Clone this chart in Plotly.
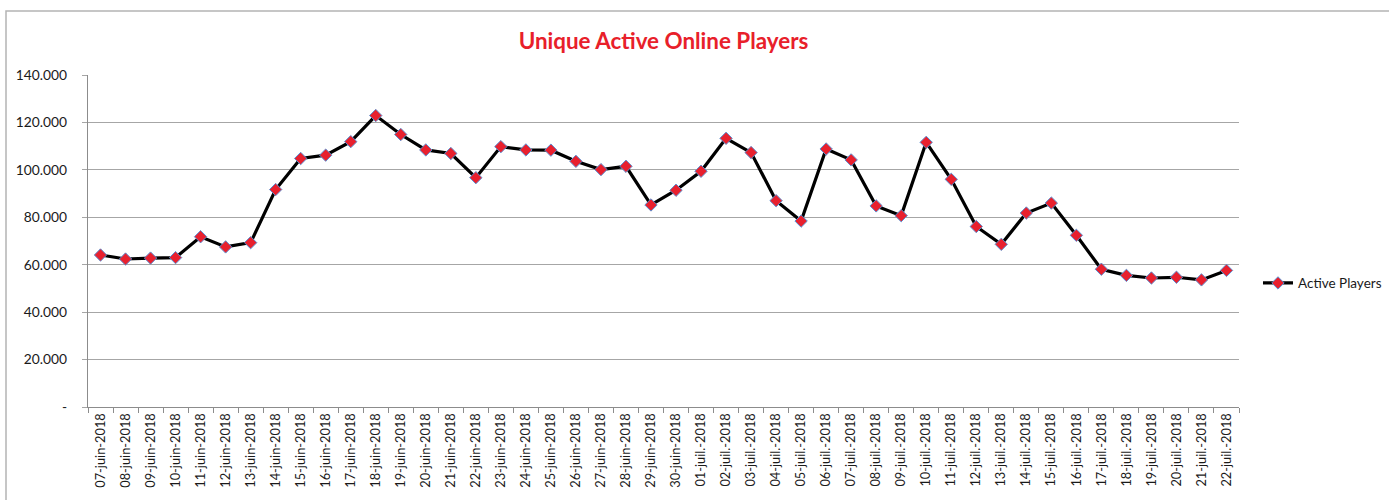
import plotly.graph_objects as go

dates = [
    "07-juin-2018", "08-juin-2018", "09-juin-2018", "10-juin-2018", "11-juin-2018",
    "12-juin-2018", "13-juin-2018", "14-juin-2018", "15-juin-2018", "16-juin-2018",
    "17-juin-2018", "18-juin-2018", "19-juin-2018", "20-juin-2018", "21-juin-2018",
    "22-juin-2018", "23-juin-2018", "24-juin-2018", "25-juin-2018", "26-juin-2018",
    "27-juin-2018", "28-juin-2018", "29-juin-2018", "30-juin-2018",
    "01-juil.-2018", "02-juil.-2018", "03-juil.-2018", "04-juil.-2018", "05-juil.-2018",
    "06-juil.-2018", "07-juil.-2018", "08-juil.-2018", "09-juil.-2018", "10-juil.-2018",
    "11-juil.-2018", "12-juil.-2018", "13-juil.-2018", "14-juil.-2018", "15-juil.-2018",
    "16-juil.-2018", "17-juil.-2018", "18-juil.-2018", "19-juil.-2018", "20-juil.-2018",
    "21-juil.-2018", "22-juil.-2018",
]

active_players = [
    64100, 62400, 62800, 63000, 71800, 67500, 69300, 91700, 104800, 106200,
    111900, 122900, 114900, 108400, 106900, 96700, 109800, 108400, 108300, 103600,
    100100, 101500, 85200, 91400, 99400, 113300, 107300, 87000, 78400, 108800,
    104200, 84800, 80700, 111600, 96000, 76100, 68600, 81800, 86000, 72400,
    58100, 55500, 54400, 54700, 53600, 57600,
]

y_tick_values = [0, 20000, 40000, 60000, 80000, 100000, 120000, 140000]
y_tick_labels = ["-", "20.000", "40.000", "60.000", "80.000", "100.000", "120.000", "140.000"]

FONT = "Lato, 'Open Sans', sans-serif"

fig = go.Figure()
fig.add_trace(go.Scatter(
    x=dates,
    y=active_players,
    mode="lines+markers",
    name="Active Players",
    line=dict(color="#000000", width=3.2),
    marker=dict(symbol="diamond", size=9.5, color="#E8202E",
                line=dict(color="#5B8ED0", width=1)),
))

fig.update_layout(
    width=1389,
    height=500,
    paper_bgcolor="white",
    plot_bgcolor="white",
    margin=dict(l=88, r=150, t=75, b=93, autoexpand=False),
    font=dict(family=FONT, size=13, color="#1A1A1A"),
    title=dict(
        text="<b>Unique Active Online Players</b>",
        x=0.5, xref="paper", xanchor="center",
        y=1 - 41 / 500, yref="container", yanchor="middle",
        font=dict(family=FONT, size=22.4, color="#E8202A"),
    ),
    showlegend=True,
    legend=dict(
        x=1.0165, xanchor="left", y=0.373, yanchor="middle",
        font=dict(family=FONT, size=13.5, color="#1A1A1A"),
        bgcolor="rgba(0,0,0,0)",
        itemwidth=30,
    ),
    xaxis=dict(
        type="category",
        range=[-0.5, len(dates) - 0.5],
        autorange=False,
        automargin=False,
        tickangle=-90,
        showgrid=False,
        showline=True,
        linecolor="#8C8C8C",
        linewidth=1.3,
        ticks="outside",
        tickson="boundaries",
        ticklen=5,
        tickcolor="#8C8C8C",
        tickfont=dict(family=FONT, size=12.8, color="#1A1A1A"),
        zeroline=False,
    ),
    yaxis=dict(
        range=[0, 140000],
        autorange=False,
        automargin=False,
        tickvals=y_tick_values,
        ticktext=y_tick_labels,
        showgrid=True,
        gridcolor="#A6A6A6",
        gridwidth=1.3,
        showline=True,
        linecolor="#8C8C8C",
        linewidth=1.3,
        ticks="outside",
        ticklen=5,
        tickcolor="#A6A6A6",
        ticklabelstandoff=12,
        tickfont=dict(family=FONT, size=13.8, color="#1A1A1A"),
        zeroline=False,
    ),
    shapes=[dict(
        type="rect", xref="paper", yref="paper",
        x0=(6 - 88) / 1151, x1=(1420 - 88) / 1151,
        y0=(407 - 540) / 332, y1=(407 - 11) / 332,
        line=dict(color="#B4B4B4", width=1.5),
        fillcolor="rgba(0,0,0,0)", layer="below",
    )],
)

fig.write_html(
    "out.html",
    config={"displayModeBar": False},
    post_script="document.body.style.margin='0';document.body.style.overflow='hidden';",
)
